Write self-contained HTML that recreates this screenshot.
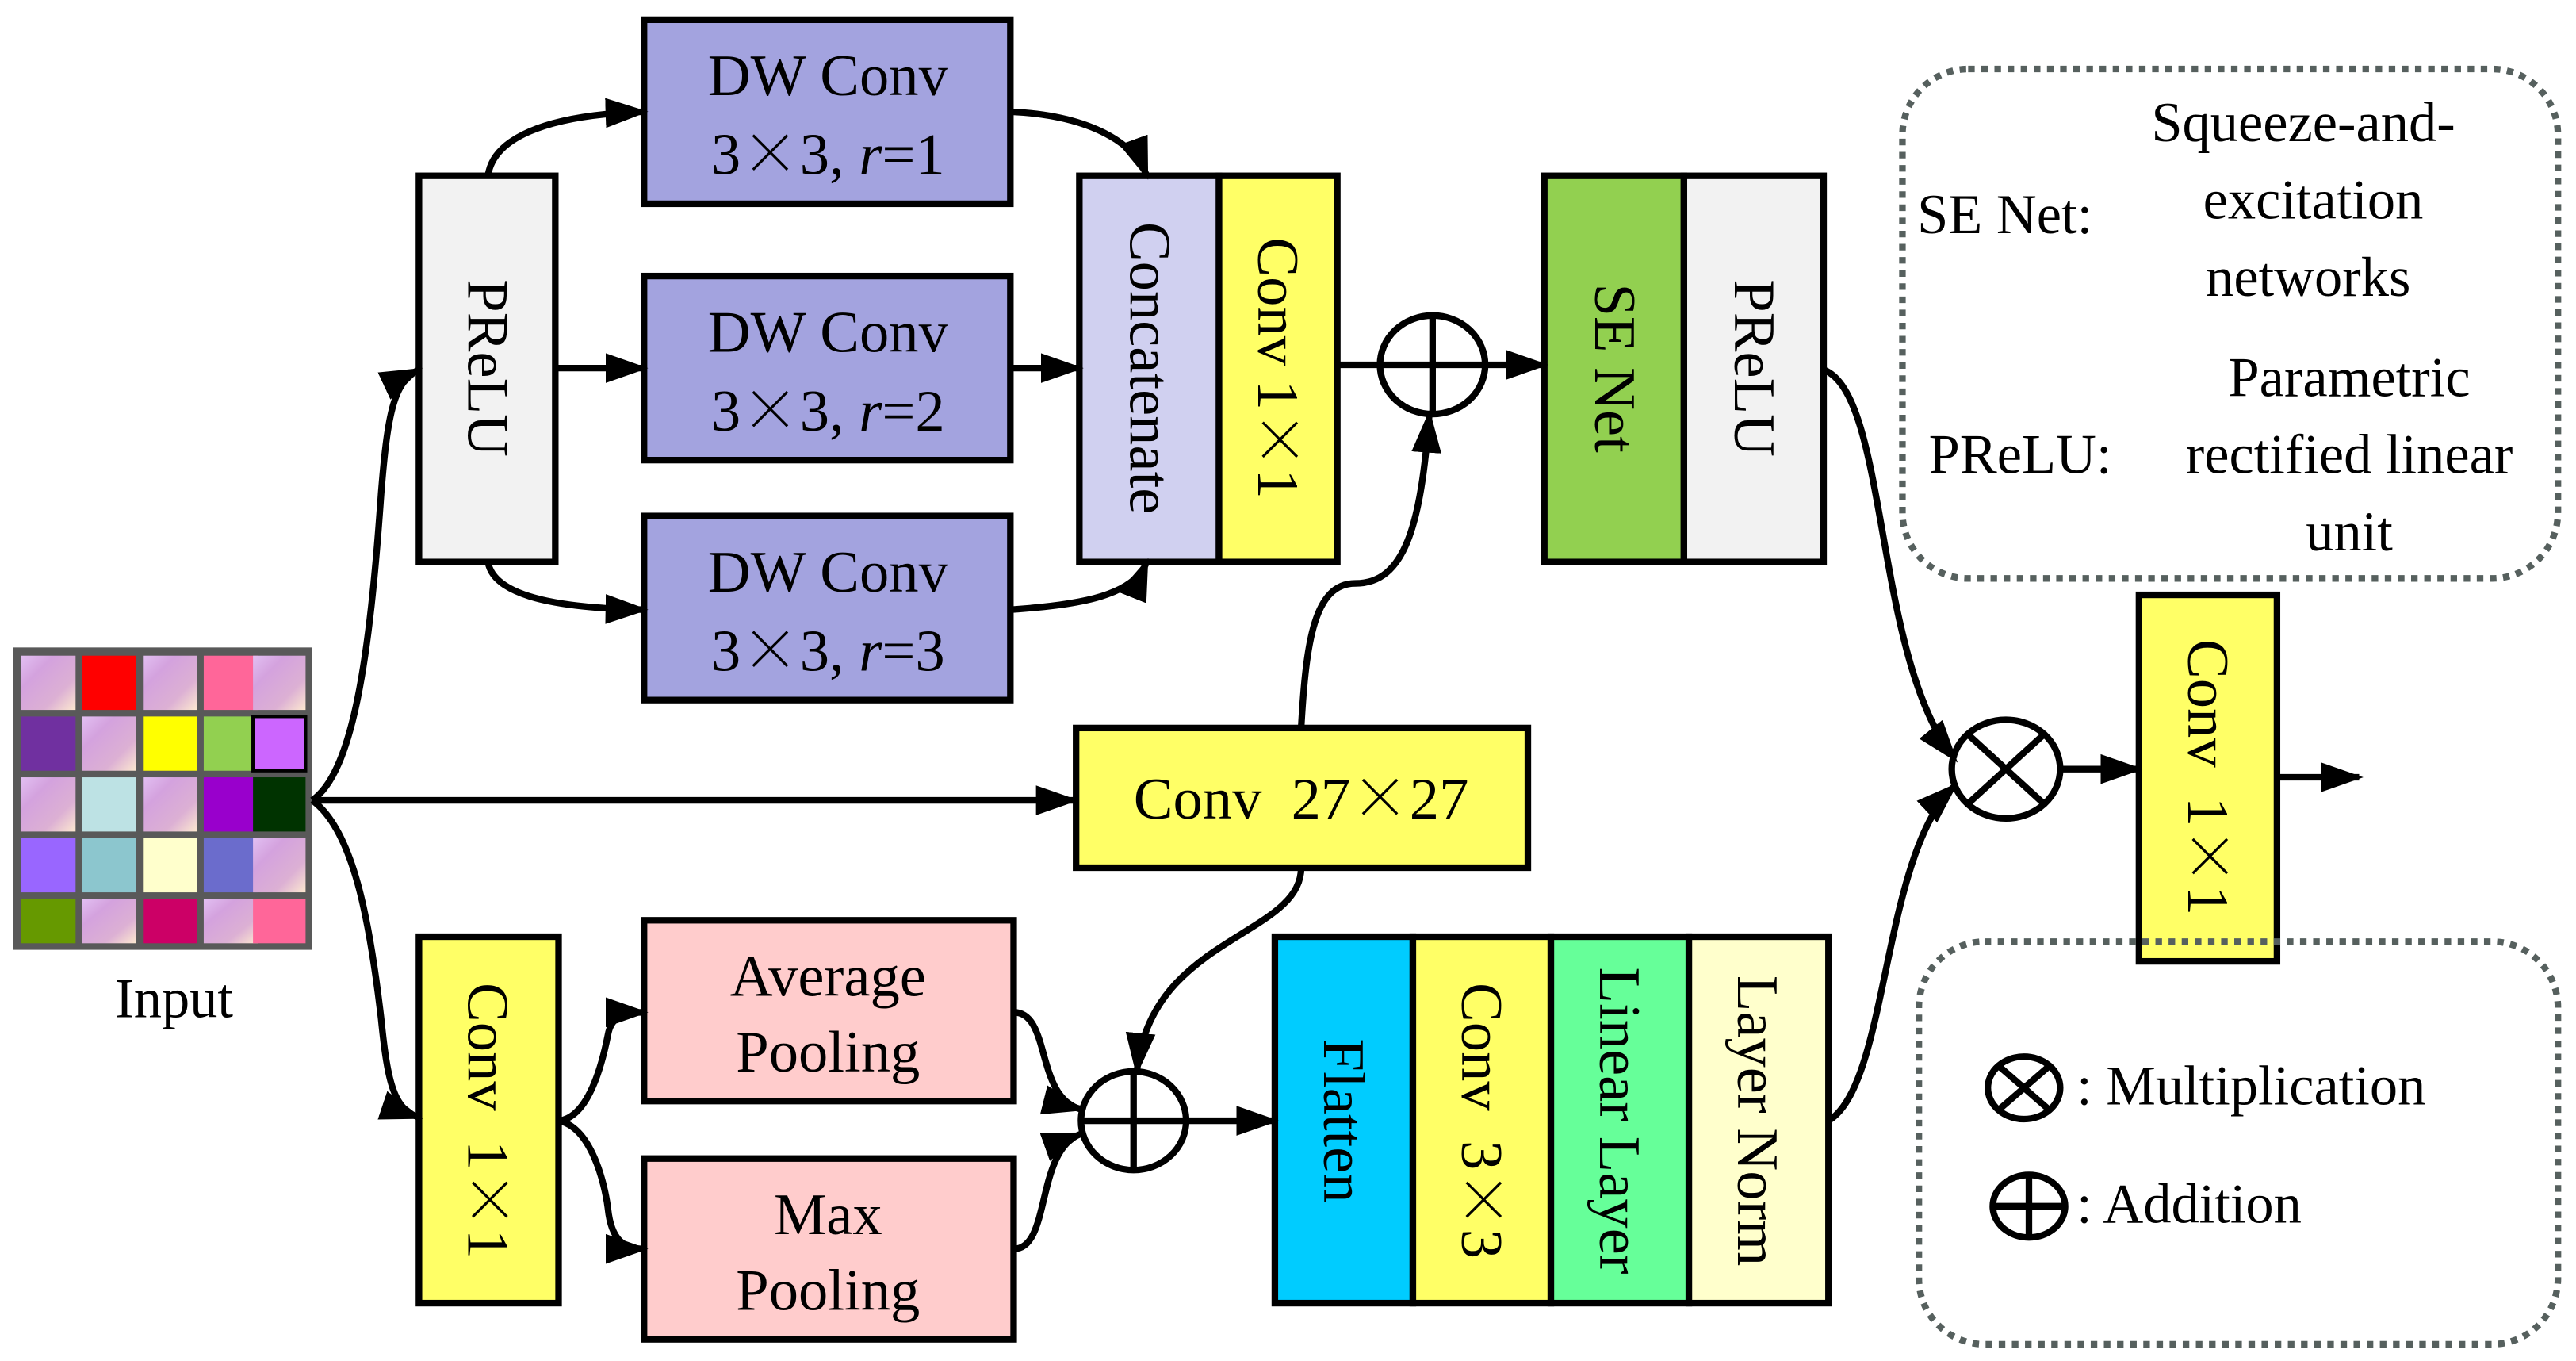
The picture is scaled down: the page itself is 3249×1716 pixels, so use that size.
<!DOCTYPE html>
<html><head><meta charset="utf-8"><style>html,body{margin:0;padding:0;background:#fff}svg{display:block}text{font-family:"Liberation Serif",serif;fill:#000}.x{font-family:"Noto Serif CJK SC","Noto Sans CJK SC",serif}</style></head><body>
<svg width="3249" height="1716" viewBox="0 0 1568 828.2" preserveAspectRatio="none" xmlns="http://www.w3.org/2000/svg">
<defs>
<marker id="b" viewBox="0 0 10 10" refX="9" refY="5" markerWidth="26" markerHeight="26" markerUnits="userSpaceOnUse" orient="auto"><path d="M0,1.5L10,5L0,8.5z"/></marker>
<linearGradient id="g" x1="0" y1="0" x2="1" y2="1"><stop offset="0" stop-color="#e2bff2"/><stop offset="0.3" stop-color="#d4a2de"/><stop offset="0.7" stop-color="#dcb0d4"/><stop offset="1" stop-color="#fce8d0"/></linearGradient>
</defs>
<rect x="8" y="394" width="182" height="184" fill="#595959"/>
<g stroke="none">
<rect x="13" y="399" width="33" height="33" fill="url(#g)"/><rect x="50" y="399" width="33" height="33" fill="#ff0000"/><rect x="87" y="399" width="33" height="33" fill="url(#g)"/><rect x="124" y="399" width="33" height="33" fill="#ff6699"/><rect x="154" y="399" width="32" height="33" fill="url(#g)"/>
<rect x="13" y="436" width="33" height="33" fill="#7030a0"/><rect x="50" y="436" width="33" height="33" fill="url(#g)"/><rect x="87" y="436" width="33" height="33" fill="#ffff00"/><rect x="124" y="436" width="33" height="33" fill="#92d050"/><rect x="154" y="436" width="32" height="33" fill="#cc66ff" stroke="#000" stroke-width="2"/>
<rect x="13" y="473" width="33" height="33" fill="url(#g)"/><rect x="50" y="473" width="33" height="33" fill="#bde2e4"/><rect x="87" y="473" width="33" height="33" fill="url(#g)"/><rect x="124" y="473" width="33" height="33" fill="#9900cc"/><rect x="154" y="473" width="32" height="33" fill="#003300"/>
<rect x="13" y="510" width="33" height="33" fill="#9966ff"/><rect x="50" y="510" width="33" height="33" fill="#8cc6ce"/><rect x="87" y="510" width="33" height="33" fill="#ffffcc"/><rect x="124" y="510" width="33" height="33" fill="#6b6ccc"/><rect x="154" y="510" width="32" height="33" fill="url(#g)"/>
<rect x="13" y="547" width="33" height="27" fill="#669900"/><rect x="50" y="547" width="33" height="27" fill="url(#g)"/><rect x="87" y="547" width="33" height="27" fill="#cc0066"/><rect x="124" y="547" width="33" height="27" fill="url(#g)"/><rect x="154" y="547" width="32" height="27" fill="#ff6699"/>
</g>
<text x="106" y="619" font-size="34" text-anchor="middle">Input</text>

<g stroke="#000" stroke-width="4">
<rect x="255" y="107" width="83" height="235" fill="#f2f2f2"/>
<rect x="392" y="12" width="223" height="112" fill="#a3a3df"/>
<rect x="392" y="168" width="223" height="112" fill="#a3a3df"/>
<rect x="392" y="314" width="223" height="112" fill="#a3a3df"/>
<rect x="657" y="107" width="85" height="235" fill="#d0d0f0"/>
<rect x="742" y="107" width="72" height="235" fill="#ffff66"/>
<rect x="940" y="107" width="85" height="235" fill="#92d050"/>
<rect x="1025" y="107" width="85" height="235" fill="#f2f2f2"/>
<rect x="655" y="443" width="275" height="85" fill="#ffff66"/>
<rect x="255" y="570" width="85" height="223" fill="#ffff66"/>
<rect x="392" y="560" width="225" height="110" fill="#ffcccc"/>
<rect x="392" y="705" width="225" height="110" fill="#ffcccc"/>
<rect x="776" y="570" width="84" height="223" fill="#00ccff"/>
<rect x="860" y="570" width="84" height="223" fill="#ffff66"/>
<rect x="944" y="570" width="84" height="223" fill="#66ff99"/>
<rect x="1028" y="570" width="85" height="223" fill="#ffffcc"/>
<rect x="1302" y="362" width="84" height="223" fill="#ffff66"/>
<ellipse cx="872" cy="222" rx="32" ry="30" fill="#fff"/><path d="M840,222H904M872,192V252"/>
<ellipse cx="690" cy="682" rx="32" ry="30" fill="#fff"/><path d="M658,682H722M690,652V712"/>
<ellipse cx="1221" cy="468" rx="33" ry="30" fill="#fff"/><path d="M1198,447L1244,489M1244,447L1198,489"/>
</g>
<g stroke="#000" stroke-width="4" fill="none" marker-end="url(#b)">
<path d="M190,487C215,470 225,400 232,300 C236,250 240,232 255,225"/>
<path d="M190,487C215,505 225,560 232,620 C236,660 240,675 255,680"/>
<path d="M190,487H654"/>
<path d="M297,107C300,85 330,70 392,68"/>
<path d="M338,224H392"/>
<path d="M297,342C300,360 330,370 392,371"/>
<path d="M615,68C660,70 690,85 698,107"/>
<path d="M615,224H657"/>
<path d="M615,371C660,368 690,362 698,342"/>
<path d="M814,222H840" marker-end="none"/>
<path d="M904,222H940"/>
<path d="M792,443C795,390 800,355 825,355 C855,355 865,320 870,252"/>
<path d="M792,528C792,570 700,570 692,652"/>
<path d="M340,682C360,680 368,640 370,630 C372,618 380,616 392,616"/>
<path d="M340,682C360,686 368,720 370,735 C372,755 380,760 392,760"/>
<path d="M617,616C640,616 630,668 658,675"/>
<path d="M617,760C640,760 630,700 658,690"/>
<path d="M722,682H776"/>
<path d="M1110,225C1150,240 1140,400 1190,462"/>
<path d="M1113,682C1150,660 1145,520 1190,478"/>
<path d="M1254,468H1302"/>
<path d="M1386,473H1436"/>
</g>
<g font-size="36" text-anchor="middle">
<text x="504" y="58">DW Conv</text><text x="504" y="106">3<tspan class="x">×</tspan>3, <tspan font-style="italic">r</tspan>=1</text>
<text x="504" y="214">DW Conv</text><text x="504" y="262">3<tspan class="x">×</tspan>3, <tspan font-style="italic">r</tspan>=2</text>
<text x="504" y="360">DW Conv</text><text x="504" y="408">3<tspan class="x">×</tspan>3, <tspan font-style="italic">r</tspan>=3</text>
<text x="792" y="498">Conv&#160; 27<tspan class="x">×</tspan>27</text>
<text x="504" y="606">Average</text><text x="504" y="652">Pooling</text>
<text x="504" y="751">Max</text><text x="504" y="797">Pooling</text>
<g transform="translate(297,224) rotate(90)"><text y="12">PReLU</text></g>
<g transform="translate(700,224) rotate(90)"><text y="12">Concatenate</text></g>
<g transform="translate(778,224) rotate(90)"><text y="12">Conv 1<tspan class="x">×</tspan>1</text></g>
<g transform="translate(983,224) rotate(90)"><text y="12">SE Net</text></g>
<g transform="translate(1068,224) rotate(90)"><text y="12">PReLU</text></g>
<g transform="translate(297,682) rotate(90)"><text y="12">Conv&#160; 1<tspan class="x">×</tspan>1</text></g>
<g transform="translate(818,682) rotate(90)"><text y="12">Flatten</text></g>
<g transform="translate(902,682) rotate(90)"><text y="12">Conv&#160; 3<tspan class="x">×</tspan>3</text></g>
<g transform="translate(986,682) rotate(90)"><text y="12">Linear Layer</text></g>
<g transform="translate(1070,682) rotate(90)"><text y="12">Layer Norm</text></g>
<g transform="translate(1344,473) rotate(90)"><text y="12">Conv&#160; 1<tspan class="x">×</tspan>1</text></g>
</g>
<g fill="none" stroke="#56605e" stroke-width="4" stroke-dasharray="4,4">
<rect x="1158" y="42" width="399" height="310" rx="40"/>
<rect x="1168" y="573" width="389" height="245" rx="40"/>
</g>
<g font-size="34">
<text x="1402" y="86" text-anchor="middle" fill="#333">Squeeze-and-</text>
<text x="1408" y="133" text-anchor="middle" fill="#333">excitation</text>
<text x="1405" y="180" text-anchor="middle" fill="#333">networks</text>
<text x="1167" y="142">SE Net:</text>
<text x="1430" y="241" text-anchor="middle">Parametric</text>
<text x="1174" y="288">PReLU:</text>
<text x="1430" y="288" text-anchor="middle">rectified linear</text>
<text x="1430" y="335" text-anchor="middle">unit</text>
<text x="1264" y="672">: Multiplication</text>
<text x="1264" y="744">: Addition</text>
</g>
<g stroke="#000" stroke-width="4" fill="none">
<ellipse cx="1232" cy="662" rx="22" ry="19"/><path d="M1217,649L1247,675M1247,649L1217,675"/>
<ellipse cx="1235" cy="734" rx="22" ry="19"/><path d="M1213,734H1257M1235,715V753"/>
</g>
</svg>
</body></html>
